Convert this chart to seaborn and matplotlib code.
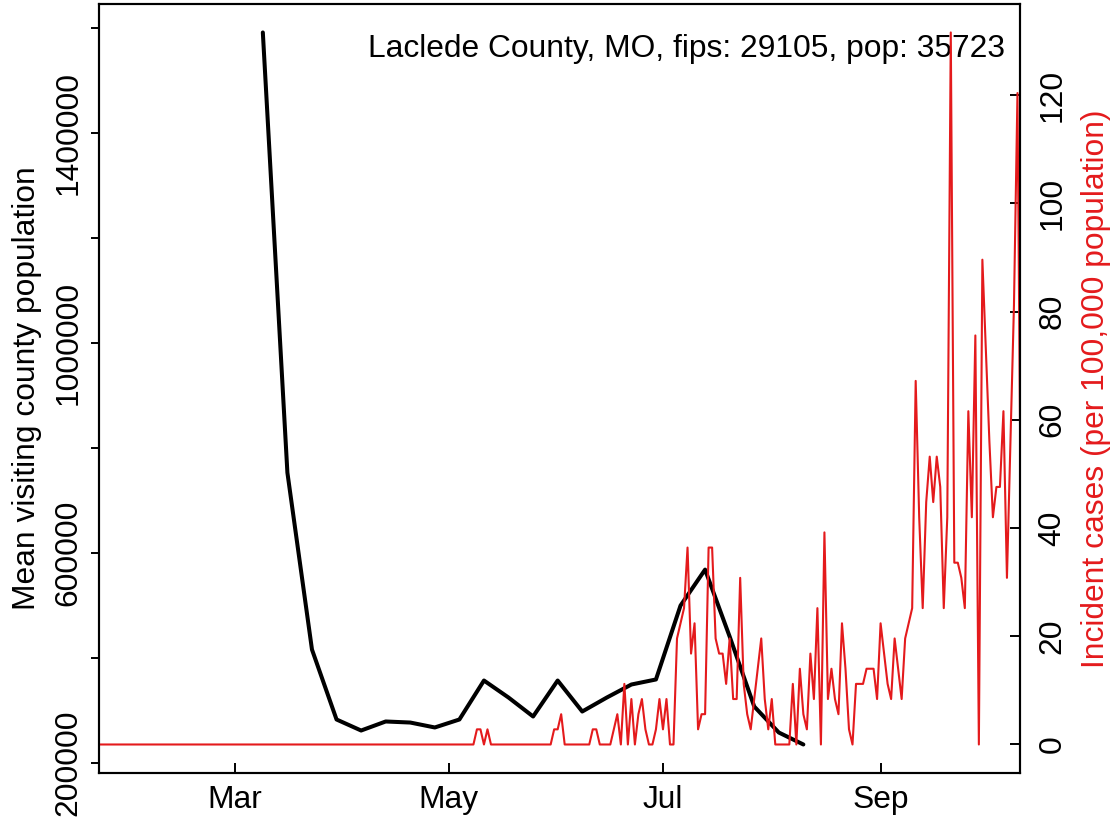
import numpy as np
import pandas as pd
import seaborn as sns
import matplotlib.pyplot as plt
import matplotlib.dates as mdates

county_label = "Laclede County, MO, fips: 29105, pop: 35723"
population = 35723

# weekly mean visiting county population, weeks starting 2020-03-09
visit_start = "2020-03-09"
mean_visiting = [1591000, 752800, 416000, 282800, 261800, 279000, 277000, 267600,
                 282800, 357000, 324600, 288500, 357000, 298000, 324600, 349400,
                 359000, 499700, 568200, 440700, 307500, 258000, 235200]

# daily new cases, starting 2020-01-22
case_start = "2020-01-22"
daily_cases = [
    # Jan 22 - Jan 31
    0, 0, 0, 0, 0, 0, 0, 0, 0, 0,
    # Feb
    0, 0, 0, 0, 0, 0, 0, 0, 0, 0, 0, 0, 0, 0, 0, 0, 0, 0, 0, 0,
    0, 0, 0, 0, 0, 0, 0, 0, 0,
    # Mar
    0, 0, 0, 0, 0, 0, 0, 0, 0, 0, 0, 0, 0, 0, 0, 0, 0, 0, 0, 0,
    0, 0, 0, 0, 0, 0, 0, 0, 0, 0, 0,
    # Apr
    0, 0, 0, 0, 0, 0, 0, 0, 0, 0, 0, 0, 0, 0, 0, 0, 0, 0, 0, 0,
    0, 0, 0, 0, 0, 0, 0, 0, 0, 0,
    # May
    0, 0, 0, 0, 0, 0, 0, 0, 1, 1, 0, 1, 0, 0, 0, 0, 0, 0, 0, 0,
    0, 0, 0, 0, 0, 0, 0, 0, 0, 0, 1,
    # Jun
    1, 2, 0, 0, 0, 0, 0, 0, 0, 0, 1, 1, 0, 0, 0, 0, 1, 2, 0, 4,
    0, 3, 0, 2, 3, 1, 0, 0, 1, 3,
    # Jul
    1, 3, 0, 0, 7, 8, 9, 13, 6, 8, 1, 2, 2, 13, 13, 7, 6, 6, 4, 7,
    3, 3, 11, 4, 2, 1, 3, 5, 7, 3, 1,
    # Aug
    3, 0, 0, 0, 0, 0, 4, 0, 5, 2, 1, 6, 3, 9, 0, 14, 3, 5, 3, 2,
    8, 5, 1, 0, 4, 4, 4, 5, 5, 5, 3,
    # Sep
    8, 6, 4, 3, 7, 5, 3, 7, 8, 9, 24, 15, 9, 16, 19, 16, 19, 17, 9, 15,
    47, 12, 12, 11, 9, 22, 15, 27, 0, 32,
    # Oct
    26, 20, 15, 17, 17, 22, 11, 20, 29, 43, 13,
]

month_ticks = ["2020-03-01", "2020-05-01", "2020-07-01", "2020-09-01"]
left_ticks = [200000, 400000, 600000, 800000, 1000000, 1200000, 1400000, 1600000]
left_labels = ["200000", "", "600000", "", "1000000", "", "1400000", ""]
right_ticks = [0, 20, 40, 60, 80, 100, 120]

red = "#E41A1C"
fs = 22.9

visits = pd.DataFrame({
    "date": pd.date_range(visit_start, periods=len(mean_visiting), freq="7D"),
    "visitors": mean_visiting,
})
cases = pd.DataFrame({
    "date": pd.date_range(case_start, periods=len(daily_cases), freq="D"),
    "cases": daily_cases,
})
cases["rate"] = cases["cases"] * 100000 / population

sns.set_style("ticks")
plt.rcParams["font.family"] = ["Liberation Sans", "DejaVu Sans"]
plt.rcParams["axes.edgecolor"] = "black"
plt.rcParams["axes.linewidth"] = 1.5
plt.rcParams["text.color"] = "black"
plt.rcParams["axes.labelcolor"] = "black"
plt.rcParams["xtick.color"] = "black"
plt.rcParams["ytick.color"] = "black"

fig = plt.figure(figsize=(11.19, 8.26), dpi=100)
ax = fig.add_axes([0.0885, 0.0642, 0.8226, 0.931])

sns.lineplot(data=visits, x="date", y="visitors", ax=ax, color="black",
             linewidth=2.9, errorbar=None)
ax2 = ax.twinx()
sns.lineplot(data=cases, x="date", y="rate", ax=ax2, color=red,
             linewidth=1.5, errorbar=None)


def padded(vals):
    # R-style 4% range extension
    lo, hi = float(np.min(vals)), float(np.max(vals))
    d = 0.04 * (hi - lo)
    return lo - d, hi + d


ax.set_ylim(*padded(visits["visitors"]))
ax2.set_ylim(*padded(cases["rate"]))
ax.set_xlim(pd.Timestamp("2020-01-22 08:00"), pd.Timestamp("2020-10-10 14:00"))

# x axis
ax.set_xticks(pd.to_datetime(month_ticks))
ax.xaxis.set_major_formatter(mdates.DateFormatter("%b"))
ax.tick_params(axis="x", direction="in", length=7, width=1.4, pad=9,
               labelsize=fs, colors="black")
ax.set_xlabel("")

# left axis
ax.set_yticks(left_ticks)
ax.set_yticklabels(left_labels)
ax.tick_params(axis="y", direction="out", length=6, width=1.4, pad=5,
               labelsize=fs, colors="black")
for lbl in ax.get_yticklabels():
    lbl.set_rotation(90)
    lbl.set_va("center")
ax.set_ylabel("Mean visiting county population", fontsize=fs, color="black")
ax.yaxis.set_label_coords(-0.0620, 0.5)

# right axis
ax2.set_yticks(right_ticks)
ax2.tick_params(axis="y", direction="in", length=7, width=1.4, pad=13,
                labelsize=fs, colors="black")
for lbl in ax2.get_yticklabels():
    lbl.set_rotation(90)
    lbl.set_va("center")
ax2.set_ylabel("Incident cases (per 100,000 population)", fontsize=fs, color=red)
ax2.yaxis.set_label_coords(1.067, 0.5)

ax.text(0.984, 0.9307, county_label, transform=ax.transAxes, ha="right",
        va="baseline", fontsize=fs, color="black")

for a in (ax, ax2):
    for s in a.spines.values():
        s.set_visible(True)
        s.set_linewidth(1.5)
        s.set_color("black")

fig.savefig("out.png", dpi=100)
